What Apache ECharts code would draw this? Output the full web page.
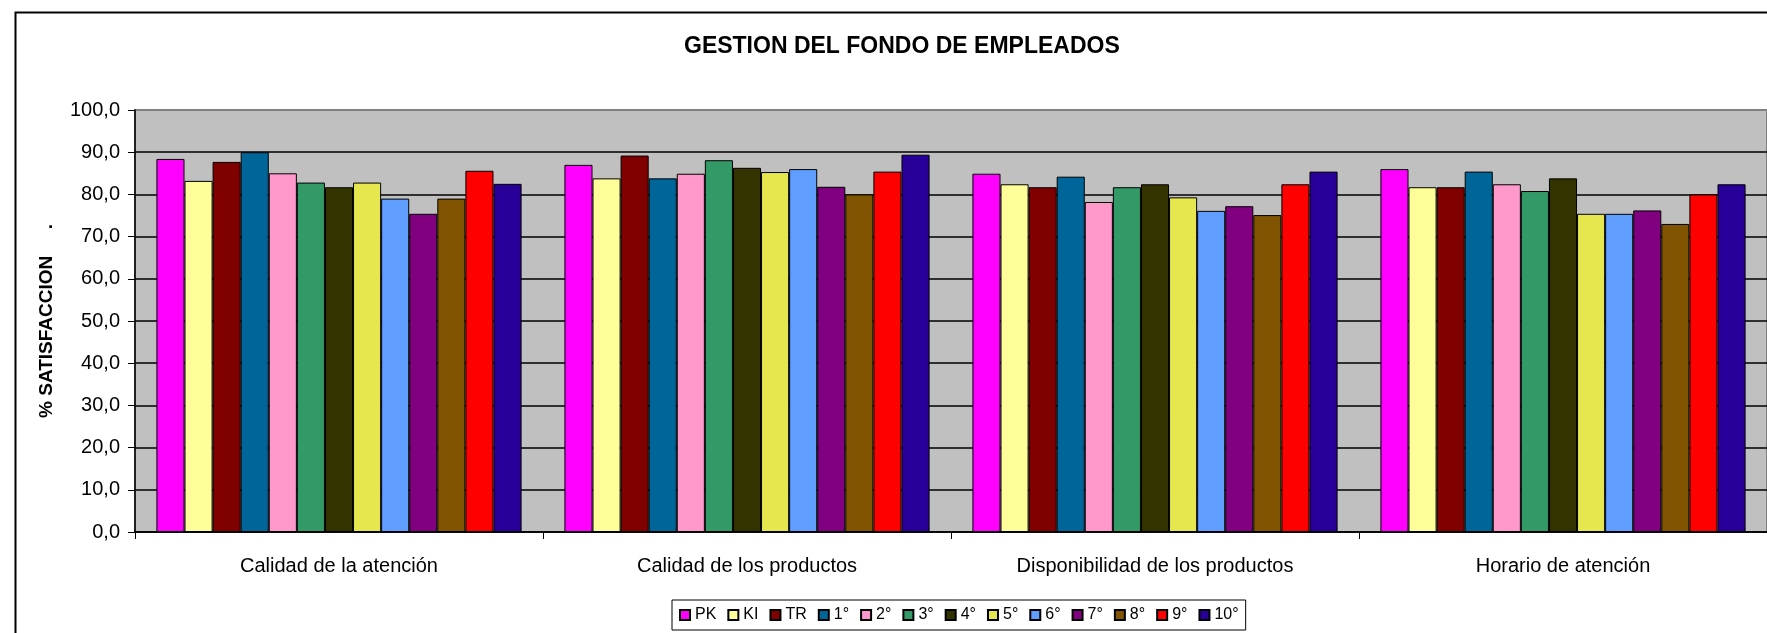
<!DOCTYPE html>
<html>
<head>
<meta charset="utf-8">
<script src="https://cdn.jsdelivr.net/npm/echarts@6/dist/echarts.min.js"></script>
<style>
html, body { margin: 0; padding: 0; background: #ffffff; }
#chart { width: 1767px; height: 633px; }
</style>
</head>
<body>
<div id="chart"></div>
<script>
// ---- data ----
const categories = ['Calidad de la atención', 'Calidad de los productos', 'Disponibilidad de los productos', 'Horario de atención'];
const seriesNames = ['PK', 'KI', 'TR', '1°', '2°', '3°', '4°', '5°', '6°', '7°', '8°', '9°', '10°'];
const seriesColors = ['#FF00FF', '#FFFF99', '#800000', '#006699', '#FF99CC', '#339966', '#333300', '#E6E64E', '#5F9DFF', '#800080', '#805400', '#FF0000', '#280099'];
const valPK  = [88.4, 87.0, 84.9, 86.0];
const valKI  = [83.2, 83.8, 82.4, 81.7];
const valTR  = [87.7, 89.2, 81.7, 81.7];
const val1   = [90.0, 83.8, 84.2, 85.4];
const val2   = [85.0, 84.9, 78.2, 82.4];
const val3   = [82.8, 88.1, 81.7, 80.8];
const val4   = [81.7, 86.3, 82.4, 83.8];
const val5   = [82.8, 85.3, 79.3, 75.4];
const val6   = [79.0, 86.0, 76.1, 75.4];
const val7   = [75.4, 81.8, 77.2, 76.2];
const val8   = [79.0, 80.0, 75.1, 73.0];
const val9   = [85.6, 85.4, 82.4, 80.0];
const val10  = [82.5, 89.4, 85.4, 82.4];
const yTickLabels = ['0,0', '10,0', '20,0', '30,0', '40,0', '50,0', '60,0', '70,0', '80,0', '90,0', '100,0'];
const titleText = 'GESTION DEL FONDO DE EMPLEADOS';
const yAxisName = '% SATISFACCION     .';

const allValues = [valPK, valKI, valTR, val1, val2, val3, val4, val5, val6, val7, val8, val9, val10];

const FONT = 'Liberation Sans, Arial, sans-serif';
const chart = echarts.init(document.getElementById('chart'), null, { renderer: 'canvas' });

const splitColors = [];
for (let i = 0; i < yTickLabels.length; i++) splitColors.push(i === yTickLabels.length - 1 ? '#808080' : '#000000');

const series = seriesNames.map((name, i) => ({
  name: name,
  type: 'bar',
  data: allValues[i],
  barGap: '0%',
  barCategoryGap: '10.5%',
  itemStyle: { color: seriesColors[i], borderColor: '#000000', borderWidth: 1 },
  emphasis: { disabled: true },
  animation: false
}));

chart.setOption({
  animation: false,
  backgroundColor: '#ffffff',
  graphic: [{
    type: 'rect',
    left: 13, top: 10,
    shape: { x: 0, y: 0, width: 1800, height: 700 },
    style: { fill: 'none', stroke: '#000000', lineWidth: 2 },
    z: -10, silent: true
  }],
  title: {
    text: titleText,
    left: 684, top: 35, padding: 0,
    textStyle: { fontFamily: FONT, fontSize: 23, fontWeight: 'bold', color: '#000000' }
  },
  legend: {
    data: seriesNames,
    left: 672, top: 600,
    padding: [7, 7],
    itemWidth: 10, itemHeight: 10, itemGap: 11,
    icon: 'rect',
    borderColor: '#000000', borderWidth: 1,
    backgroundColor: '#ffffff',
    textStyle: { fontFamily: FONT, fontSize: 16, color: '#000000' },
    selectedMode: false
  },
  grid: {
    left: 135, top: 110, width: 1636, height: 422,
    show: true, backgroundColor: '#C0C0C0', borderColor: '#808080', borderWidth: 2,
    containLabel: false
  },
  xAxis: {
    type: 'category',
    data: categories,
    axisLine: { lineStyle: { color: '#000000', width: 1.5 } },
    axisTick: { show: true, length: 7, lineStyle: { color: '#000000', width: 1 } },
    axisLabel: { fontFamily: FONT, fontSize: 20, color: '#000000', margin: 24 },
    splitLine: { show: false }
  },
  yAxis: {
    type: 'value',
    min: 0, max: 100, interval: 10,
    name: yAxisName,
    nameLocation: 'middle',
    nameGap: 79,
    nameTextStyle: { fontFamily: FONT, fontSize: 19, fontWeight: 'bold', color: '#000000' },
    axisLine: { show: true, lineStyle: { color: '#000000', width: 1.5 } },
    axisTick: { show: true, length: 7, lineStyle: { color: '#000000', width: 1 } },
    axisLabel: {
      fontFamily: FONT, fontSize: 20, color: '#000000', margin: 15,
      formatter: function (v) { return yTickLabels[Math.round(v / 10)]; }
    },
    splitLine: { show: true, lineStyle: { color: splitColors, width: 1.5 } }
  },
  series: series
});
</script>
</body>
</html>
